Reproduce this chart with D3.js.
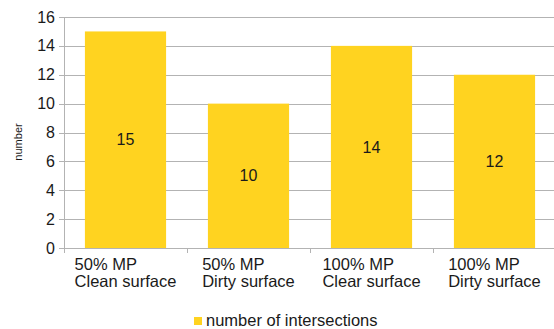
<!DOCTYPE html>
<html>
<head>
<meta charset="utf-8">
<script src="https://cdn.jsdelivr.net/npm/d3@7"></script>
<style>
  body { margin: 0; background: #fff; }
  text { font-family: "Liberation Sans", Arial, sans-serif; fill: #1a1a1a; }
</style>
</head>
<body>
<div id="chart"></div>
<script>
// chart data
const categories = [
  ["50% MP", "Clean surface"],
  ["50% MP", "Dirty surface"],
  ["100% MP", "Clear surface"],
  ["100% MP", "Dirty surface"]
];
const values = [15, 10, 14, 12];
const yTicks = [0, 2, 4, 6, 8, 10, 12, 14, 16];
const seriesName = "number of intersections";

const width = 554, height = 329;
const barColor = "#ffd320";

const svg = d3.select("#chart")
  .append("svg")
  .attr("width", width)
  .attr("height", height);

const x = d3.scaleBand()
  .domain(d3.range(categories.length))
  .range([64, 556])
  .paddingInner(0.34)
  .paddingOuter(0.17);

const y = d3.scaleLinear()
  .domain([0, 16])
  .range([248, 17]);

// gridlines
svg.append("g")
  .selectAll("line")
  .data(yTicks)
  .join("line")
  .attr("x1", 59)
  .attr("x2", width)
  .attr("y1", d => Math.round(y(d)) + 0.5)
  .attr("y2", d => Math.round(y(d)) + 0.5)
  .attr("stroke", "#b3b3b3")
  .attr("stroke-width", 1);

// y tick labels
svg.append("g")
  .selectAll("text")
  .data(yTicks)
  .join("text")
  .attr("x", 55)
  .attr("y", d => y(d))
  .attr("dy", "0.35em")
  .attr("text-anchor", "end")
  .attr("font-size", "16px")
  .text(d => d);

// y axis line
svg.append("line")
  .attr("x1", 64.5).attr("x2", 64.5)
  .attr("y1", y(16)).attr("y2", 253)
  .attr("stroke", "#b3b3b3");

// x ticks at band boundaries
const step = x.step();
const bounds = d3.range(categories.length + 1).map(i => x(0) - x.paddingOuter() * step + i * step);
svg.append("g")
  .selectAll("line")
  .data(bounds)
  .join("line")
  .attr("x1", d => Math.round(d) + 0.5)
  .attr("x2", d => Math.round(d) + 0.5)
  .attr("y1", 248)
  .attr("y2", 253)
  .attr("stroke", "#b3b3b3");

// bars
svg.append("g")
  .selectAll("rect")
  .data(values)
  .join("rect")
  .attr("x", (d, i) => x(i))
  .attr("y", d => y(d))
  .attr("width", x.bandwidth())
  .attr("height", d => y(0) - y(d))
  .attr("fill", barColor);

// value labels
svg.append("g")
  .selectAll("text")
  .data(values)
  .join("text")
  .attr("x", (d, i) => x(i) + x.bandwidth() / 2)
  .attr("y", d => (y(d) + y(0)) / 2)
  .attr("dy", "0.35em")
  .attr("text-anchor", "middle")
  .attr("font-size", "16px")
  .text(d => d);

// category labels, left aligned block centred under band
categories.forEach((lines, i) => {
  const g = svg.append("text")
    .attr("font-size", "16.5px");
  lines.forEach((l, j) => {
    g.append("tspan")
      .attr("x", 0)
      .attr("y", 270 + j * 17)
      .text(l);
  });
  const w = g.node().getBBox().width;
  const cx = x(i) + x.bandwidth() / 2;
  g.selectAll("tspan").attr("x", cx - w / 2);
});

// y axis title
svg.append("text")
  .attr("transform", "translate(22,142) rotate(-90)")
  .attr("text-anchor", "middle")
  .attr("font-size", "11px")
  .text("number");

// legend
const legend = svg.append("g");
legend.append("rect")
  .attr("x", 194)
  .attr("y", 317)
  .attr("width", 8)
  .attr("height", 8)
  .attr("fill", barColor);
legend.append("text")
  .attr("x", 206)
  .attr("y", 326)
  .attr("font-size", "16.5px")
  .text(seriesName);
</script>
</body>
</html>
